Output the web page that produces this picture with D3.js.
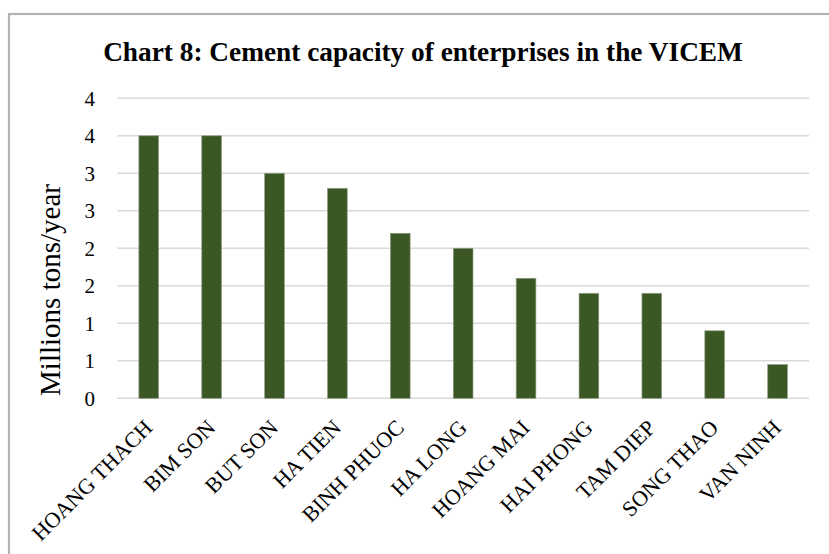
<!DOCTYPE html>
<html>
<head>
<meta charset="utf-8">
<script src="https://cdn.jsdelivr.net/npm/d3@7"></script>
<style>
  html, body { margin: 0; padding: 0; background: #fff; }
  svg { display: block; }
</style>
</head>
<body>
<svg id="chart" width="829" height="554"></svg>
<script>
const categories = ["HOANG THACH","BIM SON","BUT SON","HA TIEN","BINH PHUOC","HA LONG","HOANG MAI","HAI PHONG","TAM DIEP","SONG THAO","VAN NINH"];
const values = [3.5, 3.5, 3.0, 2.8, 2.2, 2.0, 1.6, 1.4, 1.4, 0.9, 0.45];
const tickValues = [0, 0.5, 1, 1.5, 2, 2.5, 3, 3.5, 4];
const tickLabels = ["0","1","1","2","2","3","3","4","4"];
const titleText = "Chart 8: Cement capacity of enterprises in the VICEM";
const yTitleText = "Millions tons/year";

const svg = d3.select("#chart");
const serif = "'Liberation Serif', 'DejaVu Serif', serif";

// chart frame
svg.append("rect").attr("x", 9).attr("y", 14).attr("width", 840).attr("height", 560)
  .attr("fill", "#fff").attr("stroke", "#b3b3b3").attr("stroke-width", 2.2);

const plot = { left: 117.3, right: 809, top: 98.3, bottom: 398.3 };

const y = d3.scaleLinear().domain([0, 4]).range([plot.bottom, plot.top]);
const x = d3.scaleBand().domain(categories).range([plot.left, plot.right])
  .paddingInner(0.687).paddingOuter(0.687 / 2);

function fit(sel, target) {
  const w = sel.node().getComputedTextLength();
  const s = parseFloat(sel.attr("font-size"));
  sel.attr("font-size", s * target / w);
}

// gridlines
svg.append("g").selectAll("line").data(tickValues).join("line")
  .attr("x1", plot.left).attr("x2", plot.right)
  .attr("y1", d => y(d)).attr("y2", d => y(d))
  .attr("stroke", "#d9d9d9").attr("stroke-width", 1.6);

// y axis labels via d3 axis
const yAxis = d3.axisLeft(y).tickValues(tickValues)
  .tickFormat((d, i) => tickLabels[i]).tickSize(0).tickPadding(0);
const gy = svg.append("g").attr("transform", `translate(95,0)`).call(yAxis);
gy.select(".domain").remove();
gy.selectAll("text").attr("font-family", serif).attr("font-size", 21).attr("fill", "#000")
  .attr("dy", "0.34em");

// bars
svg.append("g").selectAll("rect").data(values).join("rect")
  .attr("x", (d, i) => x(categories[i]))
  .attr("width", x.bandwidth())
  .attr("y", d => y(d))
  .attr("height", d => y(0) - y(d))
  .attr("fill", "#3b5724")
  .attr("stroke", "#8e9c82").attr("stroke-width", 0.7);

// category labels
const labels = svg.append("g").selectAll("text").data(categories).join("text")
  .attr("transform", d => `translate(${x(d) + x.bandwidth() / 2 + 5},429) rotate(-45)`)
  .attr("text-anchor", "end")
  .attr("font-family", serif).attr("font-size", 14).attr("fill", "#000")
  .text(d => d);
{
  const first = labels.filter((d, i) => i === 0);
  const w = first.node().getComputedTextLength();
  labels.attr("font-size", 14 * 160 / w);
}

// title
const title = svg.append("text").attr("x", 423).attr("y", 61)
  .attr("text-anchor", "middle").attr("font-family", serif).attr("font-weight", "bold")
  .attr("font-size", 24).attr("fill", "#000").text(titleText);
fit(title, 640);

// y title
const yt = svg.append("text").attr("transform", `translate(60,290) rotate(-90)`)
  .attr("text-anchor", "middle").attr("font-family", serif).attr("font-size", 20)
  .attr("fill", "#000").text(yTitleText);
fit(yt, 212);
</script>
</body>
</html>
